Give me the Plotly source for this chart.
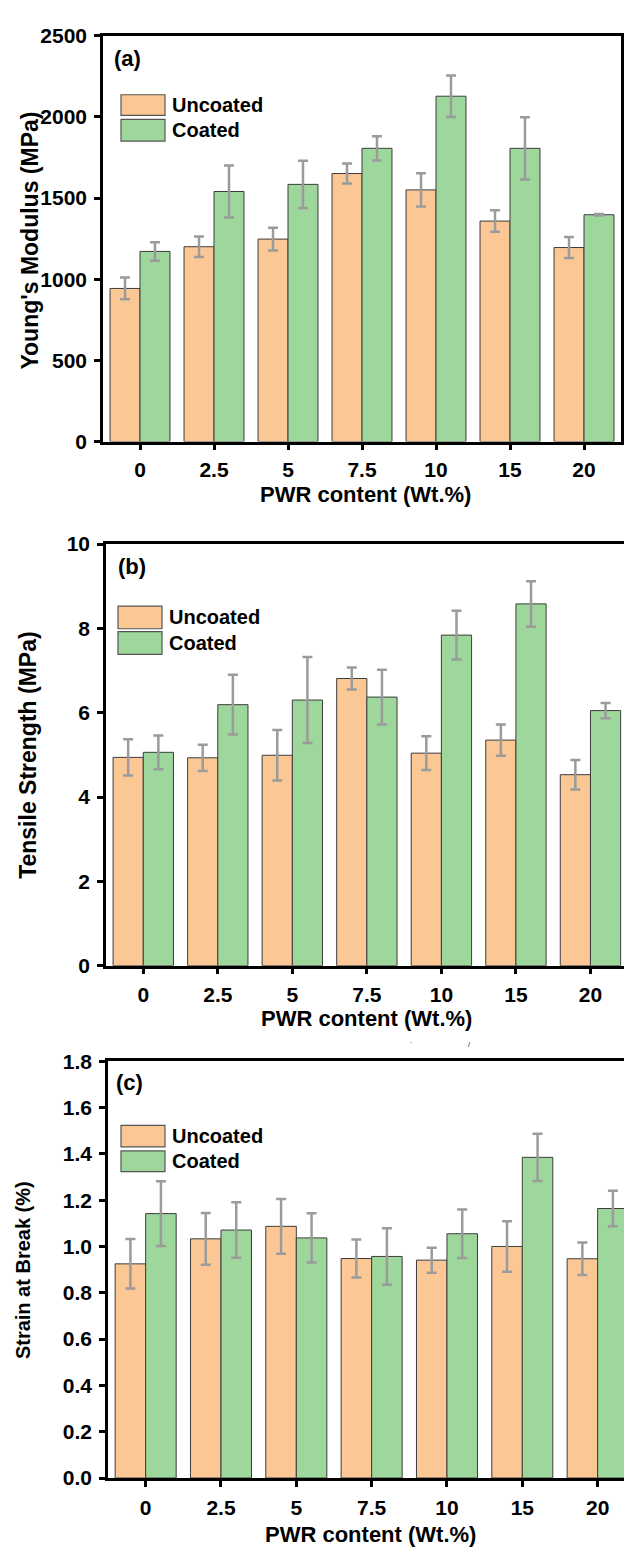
import plotly.graph_objects as go

W, H = 624, 1556

categories = ["0", "2.5", "5", "7.5", "10", "15", "20"]

ym_uncoated = [943, 1200, 1247, 1651, 1550, 1358, 1195]
ym_uncoated_err = [67, 63, 70, 62, 103, 66, 65]
ym_coated = [1171, 1540, 1584, 1806, 2127, 1806, 1397]
ym_coated_err = [57, 160, 146, 75, 128, 192, 4]

ts_uncoated = [4.94, 4.93, 4.99, 6.81, 5.04, 5.35, 4.53]
ts_uncoated_err = [0.43, 0.31, 0.60, 0.26, 0.40, 0.37, 0.35]
ts_coated = [5.06, 6.19, 6.30, 6.37, 7.84, 8.58, 6.05]
ts_coated_err = [0.40, 0.71, 1.02, 0.65, 0.58, 0.54, 0.18]

sb_uncoated = [0.925, 1.033, 1.087, 0.948, 0.941, 1.000, 0.947]
sb_uncoated_err = [0.107, 0.112, 0.118, 0.082, 0.054, 0.109, 0.070]
sb_coated = [1.142, 1.071, 1.037, 0.957, 1.055, 1.385, 1.164]
sb_coated_err = [0.140, 0.120, 0.106, 0.122, 0.105, 0.102, 0.077]

ORANGE = "#FBC895"
GREEN = "#9DD79B"
EDGE = "#3c3c3c"
ERR = "#9b9b9b"
FONT = "Liberation Sans, Arial, sans-serif"


def px_x(x):
    return x / W


def px_y(y):
    return 1 - y / H


panels = [
    dict(unc=ym_uncoated, ue=ym_uncoated_err, coat=ym_coated, ce=ym_coated_err,
         left=103, right=621, top=24, bottom=436, yr=[0, 2500], dtick=500,
         xend=6.5, mirror=True, fmt="d", tickfont=21, xstand=1,
         ytitle="Young's Modulus (MPa)", ytfont=23, ytx=30, yty=232,
         xtitle_y=490, xtitle_x=365, label="(a)", label_xy=(127, 47),
         leg=(121, 84, 105, 109, 131)),
    dict(unc=ts_uncoated, ue=ts_uncoated_err, coat=ts_coated, ce=ts_coated_err,
         left=106, right=624, top=540, bottom=968, yr=[0, 10], dtick=2,
         xend=6.45, mirror=False, fmt="d", tickfont=21, xstand=2,
         ytitle="Tensile Strength (MPa)", ytfont=23, ytx=28, yty=754,
         xtitle_y=1022, xtitle_x=366, label="(b)", label_xy=(132, 563),
         leg=(118, 603, 626, 629, 652)),
    dict(unc=sb_uncoated, ue=sb_uncoated_err, coat=sb_coated, ce=sb_coated_err,
         left=108, right=624, top=1065, bottom=1488, yr=[0, 1.8], dtick=0.2,
         xend=6.35, mirror=False, fmt=".1f", tickfont=21, xstand=3,
         ytitle="Strain at Break (%)", ytfont=20, ytx=23, yty=1277,
         xtitle_y=1545, xtitle_x=370, label="(c)", label_xy=(129, 1087),
         leg=(121, 1130, 1152, 1156, 1177)),
]

fig = go.Figure()
annotations = []
shapes = []

for i, p in enumerate(panels, start=1):
    sfx = "" if i == 1 else str(i)
    xa, ya = "x" + sfx, "y" + sfx
    for vals, errs, color, name in [(p["unc"], p["ue"], ORANGE, "Uncoated"),
                                    (p["coat"], p["ce"], GREEN, "Coated")]:
        fig.add_trace(go.Bar(
            x=categories, y=vals, name=name, xaxis=xa, yaxis=ya,
            marker=dict(color=color, line=dict(color=EDGE, width=1)),
            error_y=dict(type="data", array=errs, visible=True, color=ERR,
                         thickness=2.5, width=5),
            showlegend=False, offsetgroup=name,
        ))
    axis_common = dict(showline=True, linecolor="black", linewidth=2.5,
                       ticks="outside", ticklen=6, tickwidth=2.5, tickcolor="black",
                       showgrid=False, zeroline=False,
                       tickfont=dict(family=FONT, size=p["tickfont"], color="black", weight="bold"))
    fig.layout["xaxis" + sfx] = dict(
        domain=[px_x(p["left"]), px_x(p["right"])], anchor=ya,
        type="category", range=[-0.5, p["xend"]], mirror=True,
        ticklabelstandoff=p["xstand"], **axis_common)
    fig.layout["yaxis" + sfx] = dict(
        domain=[px_y(p["bottom"]), px_y(p["top"])], anchor=xa,
        range=p["yr"], dtick=p["dtick"], tick0=0, tickformat=p["fmt"],
        mirror=p["mirror"], ticklabelstandoff=3, **axis_common)

    annotations.append(dict(
        text=p["ytitle"], x=px_x(p["ytx"]), y=px_y(p["yty"]), xref="paper", yref="paper",
        textangle=-90, showarrow=False, xanchor="center", yanchor="middle",
        font=dict(family=FONT, size=p["ytfont"], color="black", weight="bold")))
    annotations.append(dict(
        text="PWR content (Wt.%)", x=px_x(p["xtitle_x"]), y=px_y(p["xtitle_y"]),
        xref="paper", yref="paper", showarrow=False, xanchor="center", yanchor="middle",
        font=dict(family=FONT, size=22, color="black", weight="bold")))
    annotations.append(dict(
        text=p["label"], x=px_x(p["label_xy"][0]), y=px_y(p["label_xy"][1]),
        xref="paper", yref="paper", showarrow=False, xanchor="center", yanchor="middle",
        font=dict(family=FONT, size=22, color="black", weight="bold")))

    lx, y1, y2, y3, y4 = p["leg"]
    sw = 44
    for (ya_, yb_), color, name in [((y1, y2), ORANGE, "Uncoated"), ((y3, y4), GREEN, "Coated")]:
        shapes.append(dict(type="rect", xref="paper", yref="paper",
                           x0=px_x(lx), x1=px_x(lx + sw), y0=px_y(yb_), y1=px_y(ya_),
                           fillcolor=color, line=dict(color="#555555", width=1.2)))
        annotations.append(dict(
            text=name, x=px_x(lx + sw + 5), y=px_y((ya_ + yb_) / 2), xref="paper", yref="paper",
            showarrow=False, xanchor="left", yanchor="middle",
            font=dict(family=FONT, size=20, color="black", weight="bold")))

# small stray marks above panel (c)
for mx, mt in [(411, "`"), (472, "/")]:
    annotations.append(dict(text=mt, x=px_x(mx), y=px_y(1054), xref="paper", yref="paper",
                            showarrow=False, font=dict(family=FONT, size=7, color="black")))

fig.update_layout(
    width=W, height=H, margin=dict(l=0, r=0, t=0, b=0),
    paper_bgcolor="white", plot_bgcolor="white",
    barmode="group", bargap=0.19, bargroupgap=0,
    annotations=annotations, shapes=shapes,
    font=dict(family=FONT, color="black"),
)

fig.write_html("out.html")
